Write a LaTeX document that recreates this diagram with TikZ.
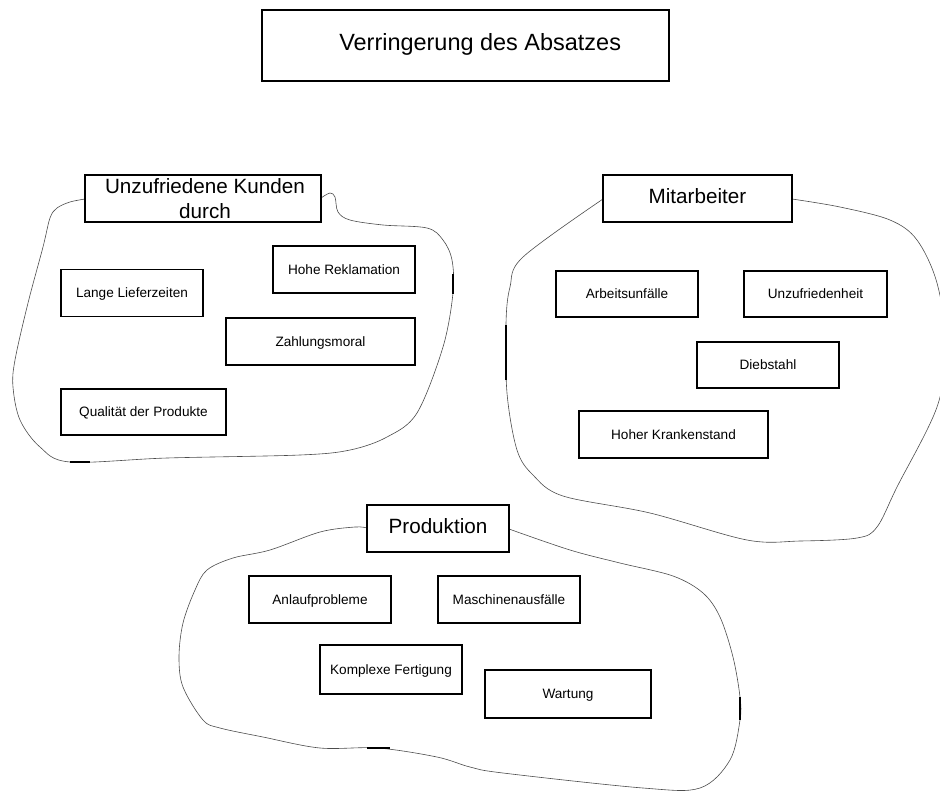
\documentclass[tikz,border=0pt]{standalone}
\usepackage{fontspec}
\setmainfont{Liberation Sans}
\begin{document}
\begin{tikzpicture}[x=0.75pt,y=-0.75pt,
  box/.style={draw=black, line width=0.8pt, fill=white, inner sep=0pt,
    text height=0.72em, text depth=0pt,
    minimum height=47*0.75pt, font=\fontsize{10.2}{12}\selectfont},
  wd/.style={minimum width=#1*0.75pt},
  headbox/.style={box, font=\fontsize{15.5}{18.75}\selectfont},
  titlebox/.style={box, minimum height=71*0.75pt, font=\fontsize{17.6}{21}\selectfont},
  outline/.style={draw=black!70, line width=0.45pt},
  heavy/.style={draw=black, line width=1.1pt}
]
\useasboundingbox (0,0) rectangle (940,790);

% cluster outlines
\draw[outline] plot[smooth, tension=0.55] coordinates {
  (85,199) (70,202) (57,208) (50,218) (43,247) (28,303) (15,360) (13,387)
  (20,420) (40,447) (70,462) (167,458) (300,455) (350,450) (387,437)
  (417,413) (443,347) (453,293) (452,260) (443,240) (427,228) (383,225)
  (350,220) (338,212) (335,197) (330,193) (321,198)};
\draw[outline] plot[smooth, tension=0.55] coordinates {
  (603,199) (523,257) (510,287) (506,323) (507,393) (517,450) (533,475)
  (563,496) (650,513) (747,540) (800,541) (857,538) (877,527) (897,487)
  (937,407) (946,345) (937,283) (917,240) (890,220) (840,207) (792,199)};
\draw[outline] plot[smooth, tension=0.55] coordinates {
  (367,528) (355,527) (320,532) (270,550) (233,558) (207,570) (195,590)
  (183,623) (179,657) (183,687) (203,720) (220,728) (263,737) (320,748)
  (378,748) (437,757) (470,767) (503,773) (643,788) (700,788) (730,760)
  (740,720) (740,697) (733,657) (720,617) (703,593) (673,576) (620,563)
  (570,550) (509,529)};

% short heavier strokes on the outlines
\draw[heavy] (453,274) -- (453,294);
\draw[heavy] (70,462) -- (90,462);
\draw[heavy] (506,325) -- (506,380);
\draw[heavy] (367,748) -- (390,748);
\draw[heavy] (740,697) -- (740,720);

% title
\node[titlebox, wd=407] (title) at (465.5,45.5) {\hspace*{22pt}Verringerung des Absatzes};

% customers
\node[box, wd=236] (kunden) at (203,198.5) {};
\node[inner sep=0pt, anchor=north, align=center,
  font=\fontsize{15.5}{18.75}\selectfont] (kundentext) at (205,178)
  {Unzufriedene Kunden\\durch};
\node[box, wd=142] (liefer) at (132,293) {Lange Lieferzeiten};
\node[box, wd=142] (reklam) at (344,269.5) {Hohe Reklamation};
\node[box, wd=189] (zahlung) at (320.5,341.5) {Zahlungsmoral};
\node[box, wd=165, minimum height=46*0.75pt] (qualitaet) at (143.5,412) {Qualität der Produkte};

% staff
\node[headbox, wd=189] (mitarb) at (697.5,198.5) {Mitarbeiter};
\node[box, wd=142, minimum height=46*0.75pt] (unfall) at (627,294) {Arbeitsunfälle};
\node[box, wd=143, minimum height=46*0.75pt] (unzufr) at (815.5,294) {Unzufriedenheit};
\node[box, wd=142, minimum height=46*0.75pt] (dieb) at (768,365) {Diebstahl};
\node[box, wd=189] (krank) at (673.5,434.5) {Hoher Krankenstand};

% production
\node[headbox, wd=142] (prod) at (438,528.5) {Produktion};
\node[box, wd=142] (anlauf) at (320,599.5) {Anlaufprobleme};
\node[box, wd=142] (masch) at (509,599.5) {Maschinenausfälle};
\node[box, wd=142, minimum height=49*0.75pt] (komplex) at (391,669.5) {Komplexe Fertigung};
\node[box, wd=166, minimum height=48*0.75pt] (wartung) at (568,694) {Wartung};
\end{tikzpicture}
\end{document}
